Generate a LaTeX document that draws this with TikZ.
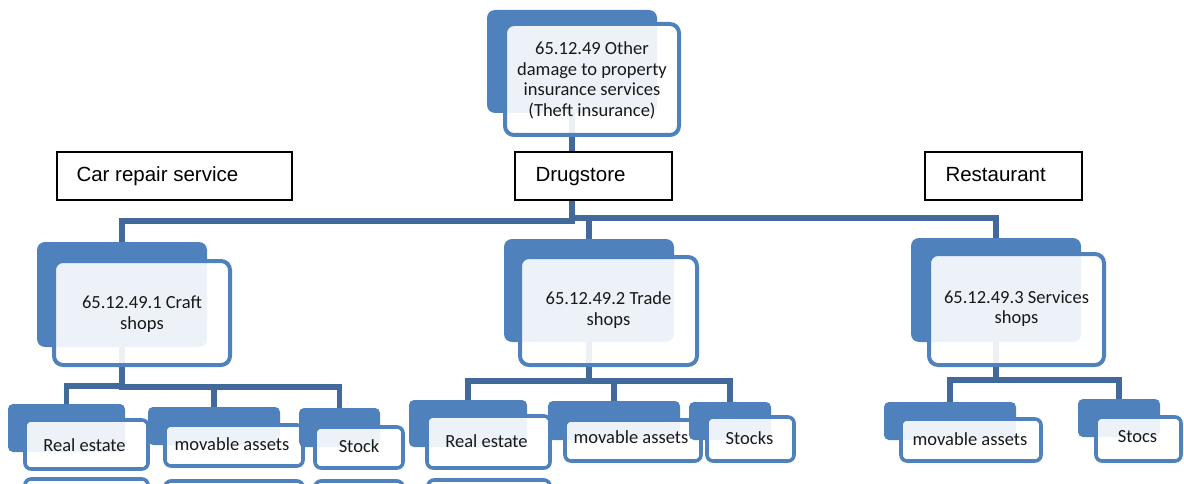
\documentclass[tikz,border=0pt]{standalone}
\usepackage{fontspec}
\setmainfont{Liberation Sans}
\newfontfamily\calib{Carlito}
\usetikzlibrary{fit,calc}
\pgfdeclarelayer{bg}
\pgfsetlayers{bg,main}
\definecolor{accent}{HTML}{4F81BD}
\definecolor{linkcol}{HTML}{41699C}
\tikzset{
 backbox/.style={fill=accent, draw=none, rounded corners=8pt, inner sep=0pt},
 frontbox/.style={draw=accent, line width=4pt, fill=white, fill opacity=0.9, rounded corners=9pt, inner sep=0pt},
 smallback/.style={backbox, rounded corners=5pt},
 smallfront/.style={frontbox, rounded corners=6pt, line width=3.6pt},
 mtext/.style={font=\calib\fontsize{18.5}{20.5}\selectfont, align=center, text=black!90, inner sep=0pt},
 stext/.style={font=\calib\fontsize{18.5}{20.5}\selectfont, text=black!90, inner sep=0pt, anchor=base},
 lbox/.style={draw=black, line width=1.4pt, fill=white, inner sep=0pt},
 ltext/.style={font=\fontsize{20.5}{24}\selectfont, inner sep=0pt, anchor=base west},
 link/.style={draw=linkcol, line width=5.5pt},
}
\begin{document}
\begin{tikzpicture}[x=1pt,y=-1pt]
\useasboundingbox (0,0) rectangle (1184,484);
\clip (0,0) rectangle (1184,484);
% ---- top node
\node[backbox, fit={(487,10) (657,113)}] (topb) {};
\node[frontbox, fit={(505,24) (679,135)}] (topf) {};
\node[mtext] (topt) at ($(topf.center)+(0,1)$) {65.12.49 Other\\damage to property\\insurance services\\(Theft insurance)};
% ---- level 1
\node[backbox, fit={(37,242) (207,347)}] (craftb) {};
\node[frontbox, fit={(54,261) (230,365)}] (craftf) {};
\node[mtext] (craftt) at ($(craftf.center)+(0,1)$) {65.12.49.1 Craft\\shops};
\node[backbox, fit={(504,239) (674,342)}] (tradeb) {};
\node[frontbox, fit={(520,257) (697,365)}] (tradef) {};
\node[mtext] (tradet) at ($(tradef.center)+(0,-1)$) {65.12.49.2 Trade\\shops};
\node[backbox, fit={(911,238) (1081,342)}] (servb) {};
\node[frontbox, fit={(929,254) (1104,365)}] (servf) {};
\node[mtext] (servt) at ($(servf.center)+(0,-1)$) {65.12.49.3 Services\\shops};
% ---- level 2 left
\node[smallback, fit={(8,404) (125,452)}] (re1b) {};
\node[smallfront, fit={(25,420) (148,469)}] (re1f) {};
\node[stext] (re1t) at ($(re1f.center)+(-2,7)$) {Real estate};
\node[smallback, fit={(148,407) (280,445)}] (mov1b) {};
\node[smallfront, fit={(165,425) (303,466)}] (mov1f) {};
\node[stext] (mov1t) at ($(mov1f.center)+(-2,5)$) {movable assets};
\node[smallback, fit={(299,408) (380,447)}] (stk1b) {};
\node[smallfront, fit={(315,427) (403,468)}] (stk1f) {};
\node[stext] (stk1t) at ($(stk1f.center)+(0,5)$) {Stock};
% ---- level 2 middle
\node[smallback, fit={(409,400) (527,447)}] (re2b) {};
\node[smallfront, fit={(427,416) (550,468)}] (re2f) {};
\node[stext] (re2t) at ($(re2f.center)+(-2,5)$) {Real estate};
\node[smallback, fit={(548,401) (680,440)}] (mov2b) {};
\node[smallfront, fit={(565,420) (701,461)}] (mov2f) {};
\node[stext] (mov2t) at ($(mov2f.center)+(-2,3)$) {movable assets};
\node[smallback, fit={(689,402) (771,440)}] (stk2b) {};
\node[smallfront, fit={(707,417) (794,461)}] (stk2f) {};
\node[stext] (stk2t) at ($(stk2f.center)+(-1,5)$) {Stocks};
% ---- level 2 right
\node[smallback, fit={(884,402) (1016,440)}] (mov3b) {};
\node[smallfront, fit={(901,419) (1041,461)}] (mov3f) {};
\node[stext] (mov3t) at ($(mov3f.center)+(-1,5)$) {movable assets};
\node[smallback, fit={(1078,399) (1160,437)}] (stk3b) {};
\node[smallfront, fit={(1096,417) (1181,461)}] (stk3f) {};
\node[stext] (stk3t) at ($(stk3f.center)+(-1,3)$) {Stocs};
% ---- cut-off boxes at the bottom edge
\node[smallfront, fit={(25,479) (148,520)}] (cut1) {};
\node[smallfront, fit={(165,481) (303,520)}] (cut2) {};
\node[smallfront, fit={(315,481) (403,520)}] (cut3) {};
\node[smallfront, fit={(428,480) (550,520)}] (cut4) {};
% ---- label boxes
\node[lbox, fit={(57,152) (292,200)}] (carl) {};
\node[ltext] (cart) at ($(carl.west)+(20,6)$) {Car repair service};
\node[lbox, fit={(515,152) (672,200)}] (drul) {};
\node[ltext] (drut) at ($(drul.west)+(21,6)$) {Drugstore};
\node[lbox, fit={(925,152) (1082,200)}] (resl) {};
\node[ltext] (rest) at ($(resl.west)+(21,6)$) {Restaurant};
% ---- connectors
\begin{pgfonlayer}{bg}
\draw[link] (topb.south) -- ++(0,108) -| (craftb.north);
\draw[link] (topb.south) -- ++(0,105) -| (tradeb.north);
\draw[link] (topb.south) -- ++(0,105) -| (servb.north);
\draw[link] (craftb.south) -- ++(0,39) -| (re1b.north);
\draw[link] (craftb.south) -- ++(0,40) -| (mov1b.north);
\draw[link] (craftb.south) -- ++(0,40) -| (stk1b.north);
\draw[link] (tradeb.south) -- ++(0,39) -| (re2b.north);
\draw[link] (tradeb.south) -- ++(0,39) -| (mov2b.north);
\draw[link] (tradeb.south) -- ++(0,39) -| (stk2b.north);
\draw[link] (servb.south) -- ++(0,38) -| (mov3b.north);
\draw[link] (servb.south) -- ++(0,38) -| (stk3b.north);
\end{pgfonlayer}
\end{tikzpicture}
\end{document}
